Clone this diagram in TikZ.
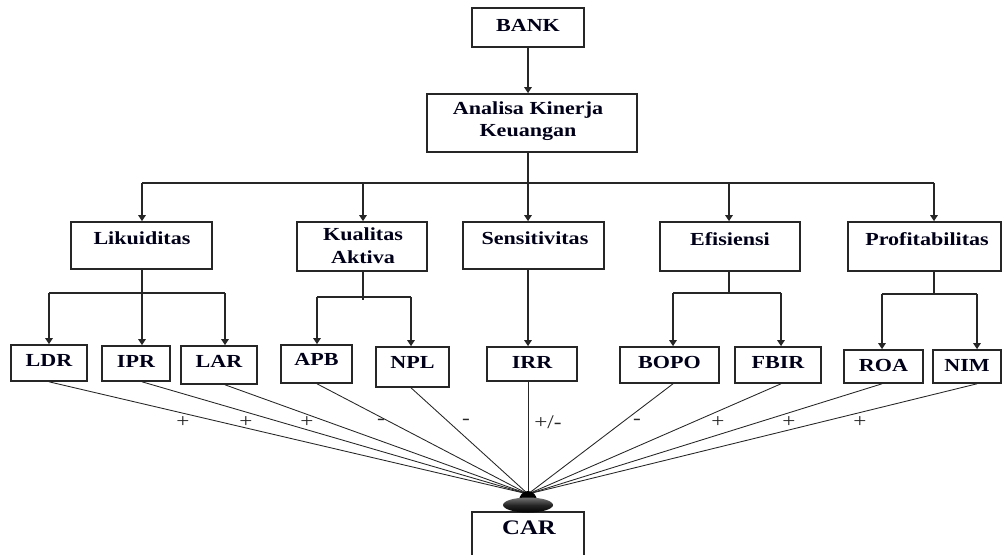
\documentclass[tikz,border=0pt]{standalone}
\usepackage{fontspec}
\setmainfont{Liberation Serif}[FakeStretch=1.2]
\usetikzlibrary{arrows.meta}
\tikzset{
  box/.style={draw=black!85, line width=1.2pt, fill=white, inner sep=0pt, rectangle},
  lbl/.style={font=\fontsize{13.8}{17}\selectfont\bfseries, inner sep=0pt, align=center, text=black!90!blue},
  sgn/.style={font=\fontsize{14.5}{16}\selectfont, inner sep=0pt, text=black!85},
  con/.style={draw=black!85, line width=1.1pt},
  arr/.style={con, -{Triangle[width=5.5pt,length=4.5pt]}},
  fan/.style={draw=black!85, line width=0.65pt}
}
\begin{document}
\begin{tikzpicture}[x=0.75pt, y=-0.75pt]
\useasboundingbox (0,0) rectangle (1003,554);
% top
\node[box, minimum width=112*0.75pt, minimum height=39*0.75pt] (bank) at (528,27.5) {};
\node[lbl] (bankt) at (528,25) {BANK};
\node[box, minimum width=210*0.75pt, minimum height=58*0.75pt] (ana) at (532,123) {};
\node[lbl] (anat) at (528,121) {Analisa Kinerja\\Keuangan};
% second tier
\node[box, minimum width=141*0.75pt, minimum height=47*0.75pt] (lik) at (141.5,245.5) {};
\node[lbl] (likt) at (142,238) {Likuiditas};
\node[box, minimum width=130*0.75pt, minimum height=49*0.75pt] (kua) at (362,246.5) {};
\node[lbl] (kuat) at (363,246) {Kualitas\\Aktiva};
\node[box, minimum width=141*0.75pt, minimum height=47*0.75pt] (sen) at (533.5,245.5) {};
\node[lbl] (sent) at (535,238) {Sensitivitas};
\node[box, minimum width=140*0.75pt, minimum height=49*0.75pt] (efi) at (730,246.5) {};
\node[lbl] (efit) at (730,239) {Efisiensi};
\node[box, minimum width=153*0.75pt, minimum height=49*0.75pt] (pro) at (924.5,246.5) {};
\node[lbl] (prot) at (927,239) {Profitabilitas};
% third tier
\node[box, minimum width=76*0.75pt, minimum height=36*0.75pt] (ldr) at (49,363) {};
\node[lbl] (ldrt) at (49,360) {LDR};
\node[box, minimum width=68*0.75pt, minimum height=35*0.75pt] (ipr) at (136,363.5) {};
\node[lbl] (iprt) at (136,361) {IPR};
\node[box, minimum width=76*0.75pt, minimum height=38*0.75pt] (lar) at (219,365) {};
\node[lbl] (lart) at (219,361) {LAR};
\node[box, minimum width=71*0.75pt, minimum height=38*0.75pt] (apb) at (316.5,364) {};
\node[lbl] (apbt) at (316.5,359) {APB};
\node[box, minimum width=73*0.75pt, minimum height=40*0.75pt] (npl) at (412.5,367) {};
\node[lbl] (nplt) at (412.5,362) {NPL};
\node[box, minimum width=90*0.75pt, minimum height=34*0.75pt] (irr) at (532,364) {};
\node[lbl] (irrt) at (532,362) {IRR};
\node[box, minimum width=99*0.75pt, minimum height=36*0.75pt] (bopo) at (669.5,365) {};
\node[lbl] (bopot) at (669.5,362) {BOPO};
\node[box, minimum width=86*0.75pt, minimum height=36*0.75pt] (fbir) at (778,365) {};
\node[lbl] (fbirt) at (778,362) {FBIR};
\node[box, minimum width=79*0.75pt, minimum height=33*0.75pt] (roa) at (883.5,366.5) {};
\node[lbl] (roat) at (883.5,365) {ROA};
\node[box, minimum width=68*0.75pt, minimum height=33*0.75pt] (nim) at (967,366.5) {};
\node[lbl] (nimt) at (967,365) {NIM};
% CAR
\node[box, minimum width=112*0.75pt, minimum height=46*0.75pt] (car) at (528,535) {};
\node[lbl, font=\fontsize{15.5}{18}\selectfont\bfseries] (cart) at (529,528) {CAR};
% junction coordinates
\coordinate (hL) at (142,183);
\coordinate (hR) at (934,183);
\coordinate (c1) at (363,183);
\coordinate (c2) at (729,183);
\coordinate (lL) at (49,293);
\coordinate (lM) at (142,293);
\coordinate (lR) at (225,293);
\coordinate (kL) at (317,297);
\coordinate (kM) at (363,297);
\coordinate (kR) at (411,297);
\coordinate (eL) at (673,293);
\coordinate (eM) at (729,293);
\coordinate (eR) at (781,293);
\coordinate (pL) at (882,294);
\coordinate (pM) at (934,294);
\coordinate (pR) at (977,294);
% top connectors
\draw[arr] (bank) -- (bank |- ana.north);
\draw[arr] (bank |- ana.south) -- (bank |- sen.north);
\draw[con] (hL) -- (hR);
\draw[arr] (hL) -- (hL |- lik.north);
\draw[arr] (c1) -- (c1 |- kua.north);
\draw[arr] (c2) -- (c2 |- efi.north);
\draw[arr] (hR) -- (hR |- pro.north);
% likuiditas
\draw[con] (lM |- lik.south) -- (lM);
\draw[con] (lL) -- (lR);
\draw[arr] (lL) -- (lL |- ldr.north);
\draw[arr] (lM) -- (lM |- ipr.north);
\draw[arr] (lR) -- (lR |- lar.north);
% kualitas
\draw[con] (kM |- kua.south) -- ([yshift=-2.5pt]kM);
\draw[con] (kL) -- (kR);
\draw[arr] (kL) -- (kL |- apb.north);
\draw[arr] (kR) -- (kR |- npl.north);
% sensitivitas
\draw[arr] (bank |- sen.south) -- (bank |- irr.north);
% efisiensi
\draw[con] (eM |- efi.south) -- (eM);
\draw[con] (eL) -- (eR);
\draw[arr] (eL) -- (eL |- bopo.north);
\draw[arr] (eR) -- (eR |- fbir.north);
% profitabilitas
\draw[con] (pM |- pro.south) -- (pM);
\draw[con] (pL) -- (pR);
\draw[arr] (pL) -- (pL |- roa.north);
\draw[arr] (pR) -- (pR |- nim.north);
% fan to CAR
\coordinate (conv) at (528,494);
\draw[fan] (lL |- ldr.south) -- (conv);
\draw[fan] (lM |- ipr.south) -- (conv);
\draw[fan] (lR |- lar.south) -- (conv);
\draw[fan] (kL |- apb.south) -- (conv);
\draw[fan] (kR |- npl.south) -- (conv);
\draw[fan] (bank |- irr.south) -- (conv);
\draw[fan] (eL |- bopo.south) -- (conv);
\draw[fan] (eR |- fbir.south) -- (conv);
\draw[fan] (pL |- roa.south) -- (conv);
\draw[fan] (pR |- nim.south) -- (conv);
% blob
\fill[black] (519,501) arc[start angle=180, end angle=360, x radius=9, y radius=10] -- cycle;
\shade[top color=black!55, bottom color=black, middle color=black!85] (528,505) ellipse[x radius=25, y radius=7.5];
\node[inner sep=0pt, minimum size=0pt] (blob) at (528,505) {};
% signs
\node[sgn] (s1) at (183,422) {+};
\node[sgn] (s2) at (246,422) {+};
\node[sgn] (s3) at (307,422) {+};
\node[sgn] (s4) at (381,422) {-};
\node[sgn] (s5) at (466,422) {-};
\node[sgn] (s6) at (548,422) {+/-};
\node[sgn] (s7) at (637,422) {-};
\node[sgn] (s8) at (718,422) {+};
\node[sgn] (s9) at (789,422) {+};
\node[sgn] (s10) at (860,422) {+};
\end{tikzpicture}
\end{document}
